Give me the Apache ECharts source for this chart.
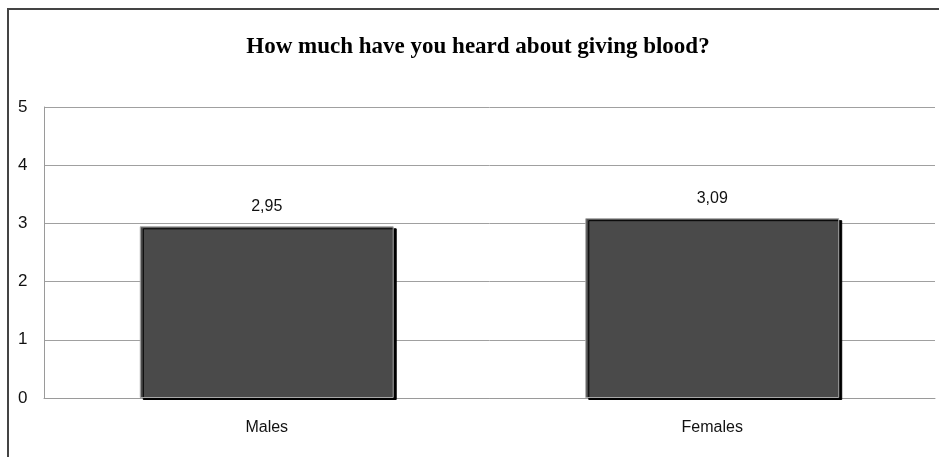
<!DOCTYPE html>
<html>
<head>
<meta charset="utf-8">
<script src="https://cdn.jsdelivr.net/npm/echarts@6/dist/echarts.min.js"></script>
<style>html,body{margin:0;padding:0;background:#fff;}#c{width:939px;height:457px;}</style>
</head>
<body>
<div id="c"></div>
<script>
const titleText = 'How much have you heard about giving blood?';
const categories = ['Males', 'Females'];
const values = [2.95, 3.09];
const yTicks = [0, 1, 2, 3, 4, 5];

const chart = echarts.init(document.getElementById('c'), null, {renderer: 'canvas'});
chart.setOption({
  animation: false,
  backgroundColor: '#ffffff',
  graphic: [{
    type: 'rect',
    shape: {x: 8, y: 9, width: 960, height: 480},
    style: {fill: 'none', stroke: '#444444', lineWidth: 2},
    silent: true,
    z: 100
  }],
  title: {
    text: titleText,
    left: 473,
    textAlign: 'center',
    top: 31,
    textStyle: {fontFamily: 'Liberation Serif', fontWeight: 'bold', fontSize: 23, color: '#000'}
  },
  grid: {left: 44, right: 4, top: 107, bottom: 59},
  xAxis: {
    type: 'category',
    data: categories,
    axisLine: {show: true, lineStyle: {color: '#9a9a9a', width: 1}},
    axisTick: {show: false},
    axisLabel: {color: '#111', fontFamily: 'Liberation Sans', fontSize: 16, margin: 22}
  },
  yAxis: {
    type: 'value',
    min: yTicks[0],
    max: yTicks[yTicks.length - 1],
    interval: 1,
    axisLine: {show: true, lineStyle: {color: '#9a9a9a', width: 1}},
    axisTick: {show: false},
    splitLine: {show: true, lineStyle: {color: '#a0a0a0', width: 1}},
    axisLabel: {color: '#111', fontFamily: 'Liberation Sans', fontSize: 17, margin: 26, align: 'left',
      formatter: v => String(v)}
  },
  series: [{
    type: 'bar',
    data: values,
    barWidth: '57%',
    itemStyle: {
      color: '#4a4a4a',
      borderColor: '#a8a8a8',
      borderWidth: 1,
      shadowColor: '#000000',
      shadowOffsetX: 3,
      shadowOffsetY: 2,
      shadowBlur: 0
    },
    label: {
      show: true,
      position: 'top',
      distance: 12,
      color: '#111',
      fontFamily: 'Liberation Sans',
      fontSize: 16,
      formatter: p => p.value.toFixed(2).replace('.', ',')
    }
  }]
});
</script>
</body>
</html>
